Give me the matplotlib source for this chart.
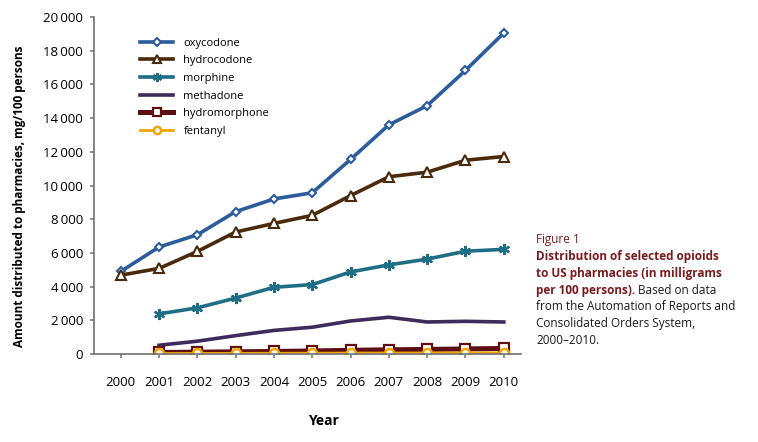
import numpy as np
import matplotlib.pyplot as plt
from matplotlib.ticker import FuncFormatter

plt.rcParams['font.family'] = ['Open Sans', 'DejaVu Sans']

# Years shown on the x axis
years = [2000, 2001, 2002, 2003, 2004, 2005, 2006, 2007, 2008, 2009, 2010]

# mg per 100 persons
oxycodone = [4900, 6350, 7080, 8450, 9200, 9570, 11550, 13600, 14740, 16830, 19050]
hydrocodone = [4680, 5080, 6090, 7240, 7750, 8230, 9400, 10520, 10790, 11500, 11720]
morphine_years = years[1:]
morphine = [2380, 2740, 3320, 3960, 4120, 4870, 5290, 5630, 6100, 6210]
methadone_years = years[1:]
methadone = [520, 760, 1090, 1400, 1590, 1960, 2180, 1900, 1940, 1900]
hydromorphone_years = years[1:]
hydromorphone = [90, 110, 130, 150, 180, 220, 250, 270, 300, 330]
fentanyl_years = years[1:]
fentanyl = [30, 35, 40, 45, 50, 55, 60, 62, 66, 70]

yticks = list(range(0, 20001, 2000))

c_oxy = '#2C5C9C'
c_hydro = '#4B2A0C'
c_morph = '#1E6E86'
c_meth = '#3D2B5C'
c_hm = '#5C0E10'
c_fent = '#F2A500'
c_red = '#7A1A1E'

fig = plt.figure(figsize=(7.58, 4.42), dpi=100)
ax = fig.add_axes([94 / 758, 1 - 354 / 442, 427 / 758, 337 / 442])

lw = 2.6
ax.plot(years, oxycodone, color=c_oxy, lw=lw, marker='D', ms=4.5,
        mfc='white', mec=c_oxy, mew=1.5, label='oxycodone')
ax.plot(years, hydrocodone, color=c_hydro, lw=lw, marker='^', ms=6.5,
        mfc='white', mec=c_hydro, mew=1.5, label='hydrocodone')
ax.plot(morphine_years, morphine, color=c_morph, lw=lw, marker=(6, 2, 0), ms=8,
        mec=c_morph, mew=1.6, label='morphine')
ax.plot(methadone_years, methadone, color=c_meth, lw=lw, label='methadone')
ax.plot(hydromorphone_years, hydromorphone, color=c_hm, lw=lw + 1, marker='s', ms=6.5,
        mfc='white', mec=c_hm, mew=1.6, label='hydromorphone')
ax.plot(fentanyl_years, fentanyl, color=c_fent, lw=lw - 0.6, marker='o', ms=6.5,
        mfc='white', mec=c_fent, mew=1.8, label='fentanyl')

ax.set_xlim(1999.3, 2010.45)
ax.set_ylim(0, 20000)
ax.set_xticks(years)
ax.set_yticks(yticks)
ax.yaxis.set_major_formatter(FuncFormatter(lambda v, p: f"{int(v):,}".replace(',', '\u2009')))

for s in ['top', 'right']:
    ax.spines[s].set_visible(False)
for s in ['left', 'bottom']:
    ax.spines[s].set_color('#707070')
    ax.spines[s].set_linewidth(1.2)
ax.tick_params(axis='y', direction='out', length=3, width=1.1, color='#707070',
               labelsize=9.5, pad=5)
ax.tick_params(axis='x', direction='out', length=3, width=1.1, color='#707070',
               labelsize=9.5, pad=13)

ax.legend(loc='upper left', bbox_to_anchor=(0.095, 0.955), frameon=False,
          fontsize=8, handlelength=3.0, handletextpad=0.9, labelspacing=0.6,
          borderpad=0, markerscale=0.8)

fig.text(20 / 758, 1 - 196 / 442, 'Amount distributed to pharmacies, mg/100 persons',
         rotation=90, ha='center', va='center', fontsize=8.5, fontweight='bold')
fig.text(323 / 758, 1 - 421 / 442, 'Year', ha='center', va='center',
         fontsize=10, fontweight='bold')

# caption block
cx = 536 / 758
line_h = 16.7 / 442
y0 = 1 - 240 / 442
fs = 8.5
fig.text(cx, y0, 'Figure 1', color=c_red, fontsize=fs, va='center')
bold_lines = ['Distribution of selected opioids', 'to US pharmacies (in milligrams',
              'per 100 persons).']
for i, t in enumerate(bold_lines):
    txt = fig.text(cx, y0 - (i + 1) * line_h, t, color=c_red, fontsize=fs,
                   fontweight='bold', va='center')
ax.annotate(' Based on data', xy=(1, 0.5), xycoords=txt, va='center', ha='left',
            fontsize=fs, color='#1a1a1a', annotation_clip=False)
plain_lines = ['from the Automation of Reports and', 'Consolidated Orders System,',
               '2000\u20132010.']
for i, t in enumerate(plain_lines):
    fig.text(cx, y0 - (i + 4) * line_h, t, color='#1a1a1a', fontsize=fs, va='center')

fig.savefig('out.png', dpi=100)
